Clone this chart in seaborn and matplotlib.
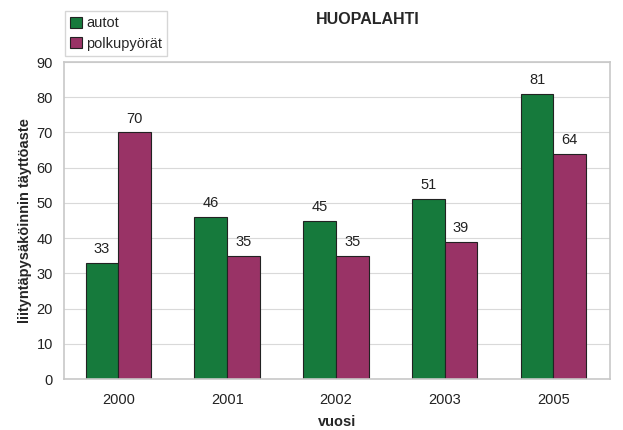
import pandas as pd
import numpy as np
import matplotlib
matplotlib.use('Agg')
import matplotlib.pyplot as plt
import seaborn as sns

years = ['2000', '2001', '2002', '2003', '2005']
autot = [33, 46, 45, 51, 81]
polkupyorat = [70, 35, 35, 39, 64]
series = ['autot', 'polkupyörät']
colors = ['#167a3c', '#993366']

df = pd.DataFrame({
    'vuosi': years * 2,
    'arvo': autot + polkupyorat,
    'sarja': [series[0]] * len(years) + [series[1]] * len(years),
})

sns.set_style('white')
plt.rcParams['font.family'] = ['Liberation Sans', 'DejaVu Sans']

fig = plt.figure(figsize=(6.23, 4.3), dpi=100)
ax = fig.add_axes([0.1027, 0.1186, 0.8764, 0.7372])

sns.barplot(data=df, x='vuosi', y='arvo', hue='sarja', palette=colors,
            width=0.6, edgecolor='#222222', linewidth=0.8, ax=ax,
            saturation=1, legend=True)

for cont in ax.containers:
    ax.bar_label(cont, padding=5, fontsize=10.5, color='#222222')

ax.set_ylim(0, 90)
ax.set_yticks(range(0, 91, 10))
ax.set_xlim(-0.48, 4.52)
ax.yaxis.grid(True, color='#d9d9d9', linewidth=0.8)
ax.set_axisbelow(True)
for s in ax.spines.values():
    s.set_color('#c8c8c8')
    s.set_linewidth(1.2)

ax.tick_params(axis='both', labelsize=10.5, colors='#222222', length=0)
ax.tick_params(axis='x', pad=10)
ax.set_xticks(np.arange(-0.5, 5, 1), minor=True)
ax.tick_params(axis='x', which='minor', length=4, color='#c8c8c8')
ax.tick_params(axis='y', length=4, color='#c8c8c8', pad=4)

ax.set_xlabel('vuosi', fontsize=10.5, fontweight='bold', labelpad=6)
ax.set_ylabel('liityntäpysäköinnin täyttöaste', fontsize=10.5, fontweight='bold', labelpad=3)

fig.text(0.59, 0.955, 'HUOPALAHTI', fontsize=11.5, fontweight='bold', ha='center', va='center')

handles, labels = ax.get_legend_handles_labels()
ax.legend_.remove()
fig.legend(handles, labels, loc='upper left', bbox_to_anchor=(0.104, 0.974),
           frameon=True, fancybox=False, edgecolor='#cccccc', fontsize=10.5,
           handlelength=0.8, handleheight=0.8, handletextpad=0.3,
           borderpad=0.35, labelspacing=0.45, borderaxespad=0)

fig.savefig('out.png', dpi=100)
